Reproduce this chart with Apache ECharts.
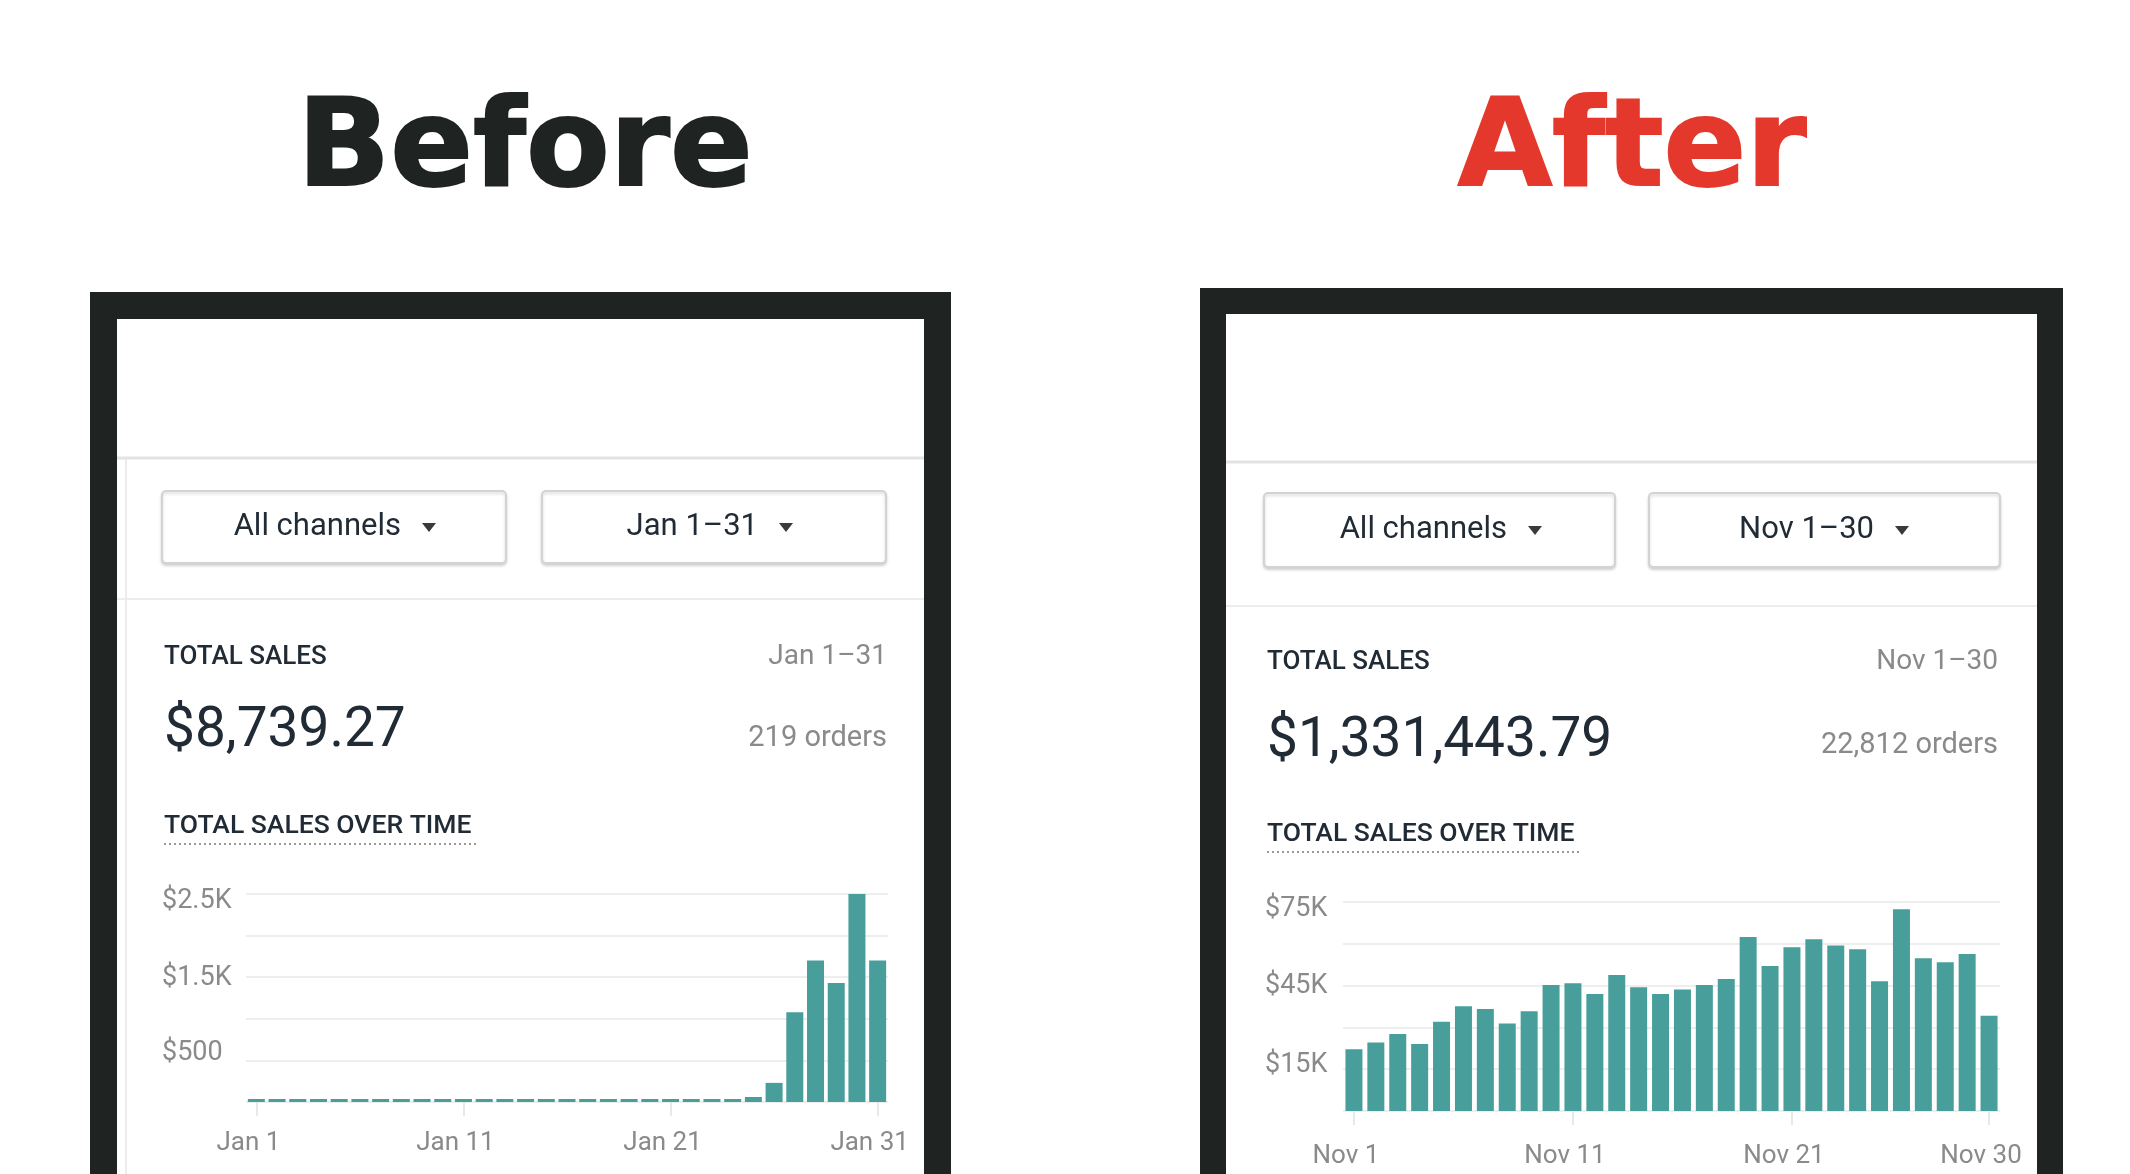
<!DOCTYPE html>
<html>
<head>
<meta charset="utf-8">
<title>Before / After</title>
<script src="https://cdn.jsdelivr.net/npm/echarts@6.0.0/dist/echarts.min.js"></script>
<style>
	html, body { margin: 0; padding: 0; background: #ffffff; }
	#main { width: 2130px; height: 1174px; }
</style>
</head>
<body>
<div id="main"></div>
<script>
// Before: January, daily total sales
var janDays = ['Jan 1', 'Jan 2', 'Jan 3', 'Jan 4', 'Jan 5', 'Jan 6', 'Jan 7', 'Jan 8', 'Jan 9', 'Jan 10',
	'Jan 11', 'Jan 12', 'Jan 13', 'Jan 14', 'Jan 15', 'Jan 16', 'Jan 17', 'Jan 18', 'Jan 19', 'Jan 20',
	'Jan 21', 'Jan 22', 'Jan 23', 'Jan 24', 'Jan 25', 'Jan 26', 'Jan 27', 'Jan 28', 'Jan 29', 'Jan 30', 'Jan 31'];
var janSales = [0, 0, 0, 0, 0, 0, 0, 0, 0, 0,
	0, 0, 0, 0, 0, 0, 0, 0, 0, 0,
	0, 0, 0, 0, 60, 230, 1080, 1700, 1430, 2500, 1700];
var janTicks = [500, 1500, 2500];
var janTickLabels = ['$500', '$1.5K', '$2.5K'];

// After: November, daily total sales
var novDays = ['Nov 1', 'Nov 2', 'Nov 3', 'Nov 4', 'Nov 5', 'Nov 6', 'Nov 7', 'Nov 8', 'Nov 9', 'Nov 10',
	'Nov 11', 'Nov 12', 'Nov 13', 'Nov 14', 'Nov 15', 'Nov 16', 'Nov 17', 'Nov 18', 'Nov 19', 'Nov 20',
	'Nov 21', 'Nov 22', 'Nov 23', 'Nov 24', 'Nov 25', 'Nov 26', 'Nov 27', 'Nov 28', 'Nov 29', 'Nov 30'];
var novSales = [22200, 24600, 27600, 24000, 32000, 37600, 36600, 31400, 35800, 45200,
	45800, 42000, 48800, 44400, 42000, 43600, 45200, 47400, 62400, 52000,
	58800, 61600, 59400, 58000, 46600, 72400, 54800, 53400, 56300, 34200];
var novTicks = [15000, 45000, 75000];
var novTickLabels = ['$15K', '$45K', '$75K'];

var DARK = '#1f2322';
var RED = '#e5382d';
var TEAL = '#489e9a';
var INK = '#212b36';
var GREY = '#8a8a8a';
var FONT = 'Roboto';

var chart = echarts.init(document.getElementById('main'));

function txt(x, y, text, size, color, align, weight, family) {
	return {
		type : 'text',
		x : x,
		y : y,
		silent : true,
		style : {
			text : text,
			fontSize : size,
			fontFamily : family || FONT,
			fontWeight : weight || 'normal',
			fill : color,
			align : align || 'left',
			verticalAlign : 'middle'
		}
	};
}

function box(x, y, w, h, fill) {
	return {
		type : 'rect',
		silent : true,
		shape : { x : x, y : y, width : w, height : h },
		style : { fill : fill }
	};
}

function hline(x1, x2, y, color, width, dash) {
	return {
		type : 'line',
		silent : true,
		shape : { x1 : x1, y1 : y, x2 : x2, y2 : y },
		style : { stroke : color, lineWidth : width, lineDash : dash || null }
	};
}

function dropdown(x, y, w, h, label, arrowX) {
	var cy = y + h / 2;
	return [{
		type : 'rect',
		silent : true,
		shape : { x : x, y : y, width : w, height : h, r : 4 },
		style : {
			fill : '#ffffff',
			stroke : '#d3d3d3',
			lineWidth : 2,
			shadowBlur : 3,
			shadowOffsetY : 2,
			shadowColor : 'rgba(0,0,0,0.15)'
		}
	},
	txt(arrowX - 28, cy, label, 31, INK, 'right'),
	{
		type : 'polygon',
		silent : true,
		shape : { points : [[arrowX - 7, cy - 4], [arrowX + 7, cy - 4], [arrowX, cy + 5]] },
		style : { fill : '#3a3a3a' }
	}];
}

// frame + card of one phone screenshot
function card(o) {
	var els = [];
	els.push(box(o.fx, o.fy, o.fw, 1000, DARK));
	els.push(box(o.fx + o.b, o.fy + o.b, o.fw - 2 * o.b, 1000, '#ffffff'));
	if (o.panelLine) {
		els.push({
			type : 'line',
			silent : true,
			shape : { x1 : o.panelLine, y1 : o.sep1, x2 : o.panelLine, y2 : 1174 },
			style : { stroke : '#ececec', lineWidth : 2 }
		});
	}
	els.push(hline(o.fx + o.b, o.fx + o.fw - o.b, o.sep1, '#e3e3e3', 3));
	els.push(hline(o.fx + o.b, o.fx + o.fw - o.b, o.sep2, '#ececec', 2));
	els = els.concat(dropdown(o.d1x, o.dy, o.dw, o.dh, 'All channels', o.a1));
	els = els.concat(dropdown(o.d2x, o.dy, o.dw, o.dh, o.range, o.a2));
	els.push(txt(o.cl, o.yHead, 'TOTAL SALES', 26, INK, 'left', 500));
	els.push(txt(o.cr, o.yHead, o.range, 28, GREY, 'right'));
	els.push(txt(o.cl, o.yTotal, o.total, 55, INK, 'left'));
	els.push(txt(o.cr, o.yOrders, o.orders, 29, GREY, 'right'));
	els.push(txt(o.cl, o.yOver, 'TOTAL SALES OVER TIME', 26.5, INK, 'left', 500));
	els.push(hline(o.cl, o.cl + 313, o.yOver + 18, '#9a9a9a', 2, [2, 3]));
	return els;
}

var graphics = [
	{
		type : 'text', x : 525, y : 153, silent : true,
		style : {
			text : 'Before', fontSize : 122, fontFamily : 'DejaVu Sans', fontWeight : 'bold',
			fill : DARK, stroke : DARK, lineWidth : 2, align : 'center', verticalAlign : 'middle'
		}
	},
	{
		type : 'text', x : 1632, y : 153, silent : true,
		style : {
			text : 'After', fontSize : 122, fontFamily : 'DejaVu Sans', fontWeight : 'bold',
			fill : RED, stroke : RED, lineWidth : 2, align : 'center', verticalAlign : 'middle'
		}
	}
];
graphics = graphics.concat(card({
	fx : 90, fy : 292, fw : 861, b : 27,
	panelLine : 126, sep1 : 458, sep2 : 599,
	d1x : 162, d2x : 542, dy : 491, dw : 344, dh : 72, a1 : 429, a2 : 786,
	range : 'Jan 1\u201331', total : '$8,739.27', orders : '219 orders',
	cl : 164, cr : 887, yHead : 657, yTotal : 732, yOrders : 739, yOver : 826
}));
graphics = graphics.concat(card({
	fx : 1200, fy : 288, fw : 863, b : 26,
	panelLine : 0, sep1 : 462, sep2 : 606,
	d1x : 1264, d2x : 1649, dy : 493, dw : 351, dh : 74, a1 : 1535, a2 : 1902,
	range : 'Nov 1\u201330', total : '$1,331,443.79', orders : '22,812 orders',
	cl : 1267, cr : 1998, yHead : 662, yTotal : 742, yOrders : 746, yOver : 834
}));

// bottom label is nudged up, top one down, as in the screenshot
function tickFormatter(ticks, labels) {
	var names = ['lo', 'mid', 'hi'];
	return function(v) {
		var i = ticks.indexOf(v);
		return i < 0 ? '' : '{' + names[i] + '|' + labels[i] + '}';
	};
}

function xAxisFor(idx, days, shown, margin) {
	var show = function(i) {
		return shown.indexOf(i) >= 0;
	};
	return {
		type : 'category',
		gridIndex : idx,
		data : days,
		axisLine : { show : false },
		axisTick : {
			show : true,
			interval : function(i) { return show(i); },
			alignWithLabel : true,
			length : 14,
			lineStyle : { color : '#e8e8e8', width : 2 }
		},
		axisLabel : {
			interval : function(i) { return show(i); },
			margin : margin,
			padding : [0, 16, 0, 0],
			fontFamily : FONT,
			fontSize : 26,
			color : GREY
		}
	};
}

function yAxisFor(idx, max, step, ticks, labels, margin, shift) {
	var base = { fontFamily : FONT, fontSize : 27, color : GREY };
	return {
		type : 'value',
		gridIndex : idx,
		min : 0,
		max : max,
		interval : step,
		axisLine : { show : false },
		axisTick : { show : false },
		splitLine : { lineStyle : { color : '#eeeeee', width : 2 } },
		axisLabel : {
			formatter : tickFormatter(ticks, labels),
			align : 'left',
			margin : margin,
			rich : {
				lo : Object.assign({ padding : [0, 0, shift[0], 0] }, base),
				mid : Object.assign({ padding : [shift[1], 0, 0, 0] }, base),
				hi : Object.assign({ padding : [shift[2], 0, 0, 0] }, base)
			}
		}
	};
}

var option = {
	animation : false,
	backgroundColor : '#ffffff',
	graphic : { elements : graphics },
	grid : [
		{ left : 246, top : 894, width : 642, height : 208 },
		{ left : 1343, top : 902, width : 657, height : 209 }
	],
	xAxis : [
		xAxisFor(0, janDays, [0, 10, 20, 30], 28),
		xAxisFor(1, novDays, [0, 10, 20, 29], 32)
	],
	yAxis : [
		yAxisFor(0, 2500, 500, janTicks, janTickLabels, 84, [14, 2, 14]),
		yAxisFor(1, 75000, 15000, novTicks, novTickLabels, 78, [8, 2, 14])
	],
	series : [ {
		name : 'Before',
		type : 'bar',
		xAxisIndex : 0,
		yAxisIndex : 0,
		data : janSales,
		barWidth : 17,
		barMinHeight : 3,
		itemStyle : { color : TEAL },
		z : 3
	}, {
		name : 'After',
		type : 'bar',
		xAxisIndex : 1,
		yAxisIndex : 1,
		data : novSales,
		barWidth : 17,
		itemStyle : { color : TEAL },
		z : 3
	} ]
};

chart.setOption(option);
</script>
</body>
</html>
